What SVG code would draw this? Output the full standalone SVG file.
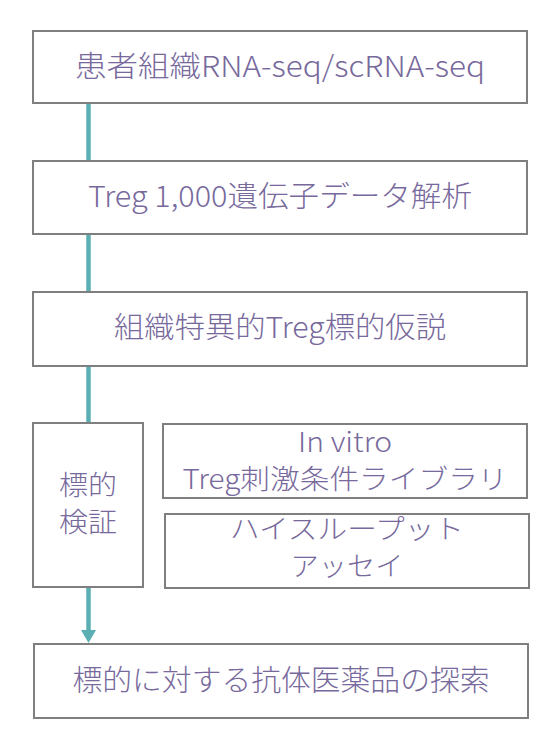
<svg xmlns="http://www.w3.org/2000/svg" width="552" height="746" viewBox="0 0 552 746">
<style>
.box{fill:#ffffff;stroke:#7f7f7f;stroke-width:2}
.lbl{font-family:"Noto Sans CJK JP","Noto Sans",sans-serif;font-size:29px;font-weight:300;fill:#77699c;text-anchor:middle}
.two{font-size:27px}
.con{stroke:#5bafb3;stroke-width:4.5;fill:none}
</style>
<rect width="552" height="746" fill="#ffffff"/>
<g id="connectors">
<line class="con" x1="88.5" y1="103" x2="88.5" y2="161"/>
<line class="con" x1="88.5" y1="234" x2="88.5" y2="292"/>
<line class="con" x1="88.5" y1="366" x2="88.5" y2="423"/>
<line class="con" x1="88.5" y1="587" x2="88.5" y2="632"/>
<path d="M81,630 L96,630 L88.5,643 Z" fill="#5bafb3"/>
</g>
<g id="n1">
<rect class="box" x="33" y="31" width="494" height="72"/>
<text class="lbl" x="280" y="77" textLength="410" lengthAdjust="spacingAndGlyphs">患者組織RNA-seq/scRNA-seq</text>
</g>
<g id="n2">
<rect class="box" x="33" y="161" width="494" height="73"/>
<text class="lbl" x="280" y="207" textLength="384" lengthAdjust="spacingAndGlyphs">Treg 1,000遺伝子データ解析</text>
</g>
<g id="n3">
<rect class="box" x="33" y="292" width="494" height="74"/>
<text class="lbl" x="280" y="338" textLength="332" lengthAdjust="spacingAndGlyphs">組織特異的Treg標的仮説</text>
</g>
<g id="n4">
<rect class="box" x="33" y="423" width="110" height="164"/>
<text class="lbl two"><tspan x="88" y="495" textLength="58" lengthAdjust="spacingAndGlyphs">標的</tspan><tspan x="88" y="532" textLength="58" lengthAdjust="spacingAndGlyphs">検証</tspan></text>
</g>
<g id="n5">
<rect class="box" x="163" y="424" width="364" height="74"/>
<text class="lbl two"><tspan x="345" y="452" textLength="94" lengthAdjust="spacingAndGlyphs">In vitro</tspan><tspan x="345" y="489" textLength="325" lengthAdjust="spacingAndGlyphs">Treg刺激条件ライブラリ</tspan></text>
</g>
<g id="n6">
<rect class="box" x="165" y="514" width="364" height="74"/>
<text class="lbl two"><tspan x="347" y="539" textLength="234" lengthAdjust="spacingAndGlyphs">ハイスループット</tspan><tspan x="347" y="576" textLength="113" lengthAdjust="spacingAndGlyphs">アッセイ</tspan></text>
</g>
<g id="n7">
<rect class="box" x="34" y="644" width="494" height="74"/>
<text class="lbl" x="281" y="691" textLength="417" lengthAdjust="spacingAndGlyphs">標的に対する抗体医薬品の探索</text>
</g>
</svg>
